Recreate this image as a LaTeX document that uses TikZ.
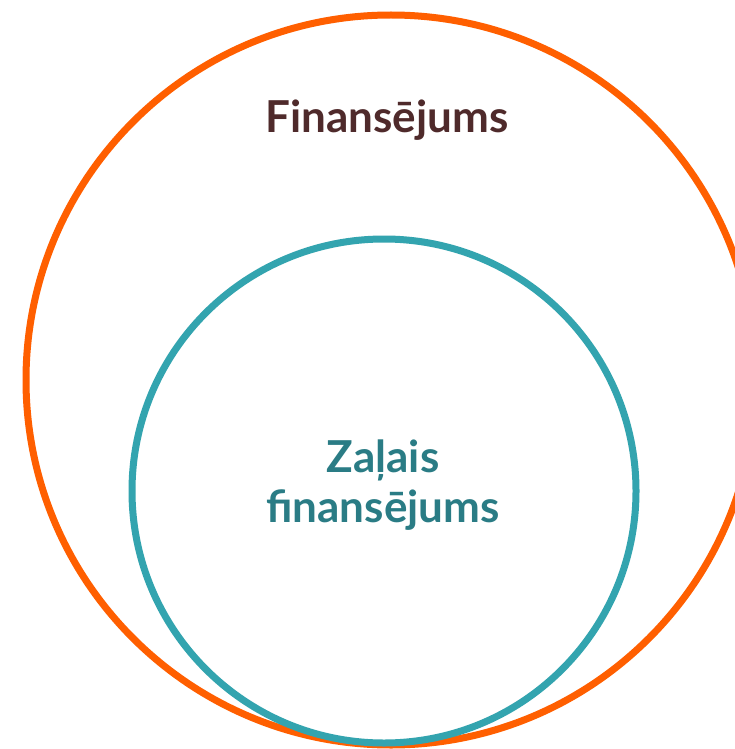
\documentclass[tikz,border=0pt]{standalone}
\usepackage{fontspec}
\setmainfont{Lato}
\definecolor{outerorange}{HTML}{FF5F00}
\definecolor{innerteal}{HTML}{33A4AF}
\definecolor{labelbrown}{HTML}{4F2A2B}
\definecolor{labelteal}{HTML}{2A7C85}
\tikzset{
  ring/.style={circle, draw, line width=7pt, inner sep=0pt},
  lbl/.style={font=\fontsize{44}{49.5}\selectfont\bfseries, align=center, inner sep=0pt}
}
\begin{document}
\begin{tikzpicture}[x=1pt,y=-1pt]
\useasboundingbox (0,0) rectangle (735,749);
\clip (0,0) rectangle (735,749);
\fill[white] (0,0) rectangle (735,749);
\node[ring, draw=outerorange, minimum size=730pt] (outer) at (391,380) {};
\node[ring, draw=innerteal, minimum size=504pt] (inner) at (384,491) {};
\node[lbl, text=labelbrown, anchor=base] (title) at (387,132) {Finansējums};
\node[lbl, text=labelteal, anchor=base] (green) at (383,522) {Zaļais\\finansējums};
\end{tikzpicture}
\end{document}
